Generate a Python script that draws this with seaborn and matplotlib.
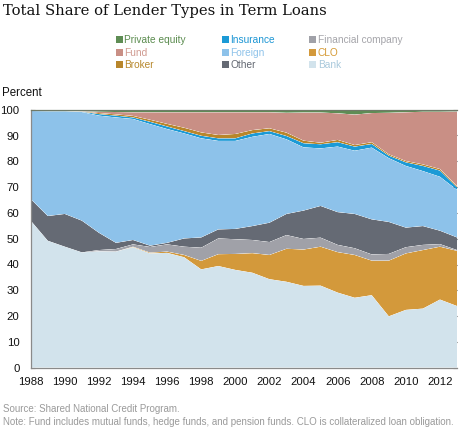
import numpy as np
import pandas as pd
import matplotlib
matplotlib.use("Agg")
import matplotlib.pyplot as plt
from matplotlib.patches import Rectangle
import seaborn as sns
import seaborn.objects as so

# ---------------- data (percent share of term loans) ----------------
years = list(range(1988, 2014))
bank = [57.0, 49.2, 46.9, 44.7, 45.1, 45.0, 46.7, 44.3, 44.5, 42.8, 38.1, 39.4, 37.9,
        36.8, 34.3, 33.3, 31.7, 31.8, 29.1, 27.1, 28.1, 19.9, 22.4, 22.9, 26.4, 23.9]
clo = [0, 0, 0, 0, 0, 0, 0.2, 0.3, 0.5, 0.9, 3.3, 4.6, 6.2,
       7.6, 9.4, 12.8, 14.1, 15.1, 15.7, 16.6, 13.4, 21.6, 21.9, 22.7, 20.5, 21.4]
fin_company = [0, 0, 0, 0, 0.5, 1.0, 0.9, 2.2, 2.8, 3.2, 5.1, 6.1, 5.7,
               5.1, 5.0, 5.3, 4.1, 3.5, 2.8, 2.6, 2.4, 2.6, 2.4, 2.0, 1.0, 0.3]
other = [8.4, 9.6, 12.7, 12.3, 6.7, 2.4, 1.7, 0.5, 0.6, 3.2, 4.0, 3.5, 4.0,
         5.4, 7.5, 8.2, 11.0, 12.3, 12.7, 13.3, 13.6, 12.4, 7.6, 7.3, 5.2, 4.9]
foreign = [34.1, 40.6, 39.8, 42.1, 45.4, 48.6, 46.9, 47.1, 44.1, 40.7, 38.4, 34.3, 34.1,
           34.6, 34.4, 28.9, 24.5, 22.3, 25.4, 24.5, 27.8, 24.7, 23.9, 21.3, 20.9, 18.4]
insurance = [0, 0, 0, 0.1, 0.6, 0.7, 0.6, 0.9, 1.0, 0.9, 1.0, 1.0, 1.0,
             1.3, 1.1, 1.3, 1.6, 1.6, 1.7, 1.6, 1.4, 1.0, 1.4, 2.0, 2.4, 1.0]
broker = [0, 0, 0, 0.1, 0.4, 0.5, 0.6, 0.8, 1.0, 1.3, 1.3, 1.3, 1.7,
          1.3, 1.1, 1.3, 1.0, 0.6, 0.9, 0.6, 0.7, 0.5, 0.5, 0.6, 0.6, 0.5]
fund = [0, 0, 0, 0.1, 0.5, 0.9, 1.4, 2.9, 4.5, 6.0, 7.8, 8.8, 8.4,
        6.9, 6.2, 7.7, 10.9, 11.7, 10.3, 11.8, 11.3, 16.1, 18.9, 20.4, 22.2, 28.9]
private_equity = [0.5, 0.6, 0.6, 0.6, 0.8, 0.9, 1.0, 1.0, 1.0, 1.0, 1.0, 1.0, 1.0,
                  1.0, 1.0, 1.2, 1.1, 1.1, 1.4, 1.9, 1.3, 1.2, 1.0, 0.8, 0.8, 0.7]

types = ["Bank", "CLO", "Financial company", "Other", "Foreign",
         "Insurance", "Broker", "Fund", "Private equity"]
series = [bank, clo, fin_company, other, foreign, insurance, broker, fund, private_equity]

fill_colors = {
    "Bank": "#d2e3ec",
    "CLO": "#d3993b",
    "Financial company": "#a0a1a8",
    "Other": "#656a74",
    "Foreign": "#8dc2ea",
    "Insurance": "#1b9ad6",
    "Broker": "#b8862b",
    "Fund": "#c98f85",
    "Private equity": "#5e8d54",
}
text_colors = {
    "Private equity": "#5b8c4f",
    "Insurance": "#1d96d4",
    "Financial company": "#a5a5aa",
    "Fund": "#d09a90",
    "Foreign": "#8fc3ea",
    "CLO": "#d59a35",
    "Broker": "#b8892f",
    "Other": "#636872",
    "Bank": "#a9c9dc",
}
legend_rows = [["Private equity", "Insurance", "Financial company"],
               ["Fund", "Foreign", "CLO"],
               ["Broker", "Other", "Bank"]]

title = "Total Share of Lender Types in Term Loans"
source = "Source: Shared National Credit Program."
note = ("Note: Fund includes mutual funds, hedge funds, and pension funds. "
        "CLO is collateralized loan obligation.")

# ---------------- figure ----------------
sns.set_style("white")
plt.rcParams["font.family"] = ["Liberation Sans", "DejaVu Sans"]

W, H = 460, 436
fig = plt.figure(figsize=(W / 100, H / 100), dpi=100)
ax_l, ax_r, ax_t, ax_b = 30.7, 457.0, 109.7, 367.7
ax = fig.add_axes([ax_l / W, 1 - ax_b / H, (ax_r - ax_l) / W, (ax_b - ax_t) / H])

df = pd.DataFrame({
    "year": np.tile(years, len(types)),
    "share": np.concatenate([np.asarray(s, float) for s in series]),
    "type": np.repeat(types, len(years)),
})

(
    so.Plot(df, x="year", y="share", color="type")
    .add(so.Area(alpha=1, edgewidth=0), so.Stack(), legend=False)
    .scale(color=so.Nominal(fill_colors, order=types))
    .on(ax)
    .plot()
)

ax.set_facecolor("white")
ax.grid(False)
ax.set_xlabel("")
ax.set_ylabel("")
ax.set_xlim(1988, 2013)
ax.set_ylim(0, 100)
ax.set_xticks(list(range(1988, 2013, 2)))
ax.set_xticklabels([str(y) for y in range(1988, 2013, 2)])
ax.set_xticks(list(range(1989, 2014, 2)), minor=True)
ax.set_yticks(list(range(0, 101, 10)))
ax.set_yticklabels([str(v) for v in range(0, 101, 10)])

for side in ["left", "bottom", "top"]:
    ax.spines[side].set_visible(True)
    ax.spines[side].set_color("#8a8a8a")
    ax.spines[side].set_linewidth(0.9)
ax.spines["top"].set_color("#6f7a68")
ax.spines["right"].set_visible(False)

ax.tick_params(axis="x", which="major", direction="in", length=5, width=0.9,
               color="#555555", labelsize=8.2, pad=7, labelcolor="#111111", top=False)
ax.tick_params(axis="x", which="minor", direction="in", length=2.5, width=0.9,
               color="#777777", top=False)
ax.tick_params(axis="y", which="major", direction="in", length=3, width=0.8,
               color="#555555", labelsize=8.2, pad=8, labelcolor="#111111",
               left=True, right=True)

# ---------------- texts ----------------
fig.text(3 / W, 1 - 11 / H, title, family="DejaVu Serif", fontsize=10.6,
         color="#111111", ha="left", va="center")
fig.text(2 / W, 1 - 93 / H, "Percent", fontsize=8.3, color="#111111",
         ha="left", va="center")
fig.text(3 / W, 1 - 409 / H, source, fontsize=7.0, color="#9a9a9a",
         ha="left", va="center")
fig.text(3 / W, 1 - 421.5 / H, note, fontsize=7.0, color="#9a9a9a",
         ha="left", va="center")

# legend (3 columns, row-wise order)
col_x = [116, 222, 309.5]
row_y = [40, 52.5, 65]
for r, row in enumerate(legend_rows):
    for c, name in enumerate(row):
        x0, yc = col_x[c], row_y[r]
        fig.add_artist(Rectangle((x0 / W, 1 - (yc + 3.5) / H), 7 / W, 7 / H,
                                 transform=fig.transFigure,
                                 facecolor=fill_colors[name], edgecolor="none"))
        fig.text((x0 + 8.5) / W, 1 - yc / H, name, fontsize=7.3,
                 color=text_colors[name], ha="left", va="center")

fig.savefig("out.png", dpi=100)
